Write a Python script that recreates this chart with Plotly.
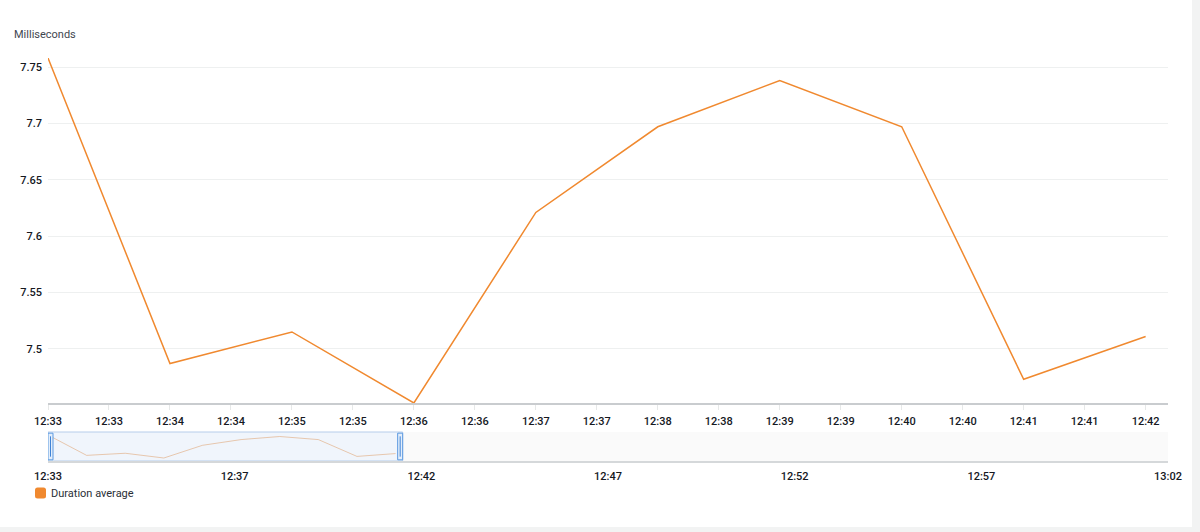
import plotly.graph_objects as go
import pandas as pd

# ---- data ----
day = "2023-06-01"
times = ["12:33", "12:34", "12:35", "12:36", "12:37", "12:38", "12:39", "12:40", "12:41", "12:42"]
values = [7.758, 7.487, 7.515, 7.452, 7.621, 7.697, 7.738, 7.697, 7.473, 7.511]
series_name = "Duration average"
y_label = "Milliseconds"
y_ticks = [7.5, 7.55, 7.6, 7.65, 7.7, 7.75]
y_ticktext = ["7.5", "7.55", "7.6", "7.65", "7.7", "7.75"]
view_start = "12:33:00"
view_end = "12:42:11"
overview_end = "13:02:00"
overview_label_count = 7

# ---- derived ----
x = pd.to_datetime([f"{day} {t}" for t in times])
t0 = pd.Timestamp(f"{day} {view_start}")
t_view_end = pd.Timestamp(f"{day} {view_end}")
t_over_end = pd.Timestamp(f"{day} {overview_end}")
over_ticks = [t0 + (t_over_end - t0) * k / (overview_label_count - 1) for k in range(overview_label_count)]

W, H = 1200, 532
def fx(p):
    return p / W
def fy(p):
    return 1 - p / H

ORANGE = "#f0892f"
TXT = "#16191f"
FONT = "Roboto"

vmin, vmax = min(values), max(values)
span = vmax - vmin
# overview band 432..461 px, line inside 435..458 px
pad = span * 3 / 23

fig = go.Figure()

fig.add_trace(go.Scatter(x=x, y=values, mode="lines", line=dict(color=ORANGE, width=1.5),
                         xaxis="x", yaxis="y", showlegend=False, name=series_name))
fig.add_trace(go.Scatter(x=x, y=values, mode="lines", line=dict(color="rgba(222,160,110,0.55)", width=1),
                         xaxis="x2", yaxis="y2", showlegend=False, name=series_name, hoverinfo="skip"))

xdom = [fx(48), fx(1168)]

fig.update_layout(
    width=W, height=H,
    margin=dict(l=0, r=0, t=0, b=0, autoexpand=False),
    paper_bgcolor="white", plot_bgcolor="rgba(0,0,0,0)",
    showlegend=False,
    font=dict(family=FONT, size=11, color=TXT),
    xaxis=dict(domain=xdom, anchor="y", type="date", range=[t0, t_view_end],
               tick0=t0, dtick=30000, tickformat="%H:%M", automargin=False,
               showgrid=False, zeroline=False,
               showline=True, linecolor="#c9cccf", linewidth=2,
               ticks="outside", ticklen=5, tickcolor="#e6e8e8", tickwidth=1,
               ticklabelstandoff=2,
               tickfont=dict(size=11, color=TXT, weight=500)),
    yaxis=dict(domain=[fy(403), fy(58)], anchor="x", range=[vmin, vmax], automargin=False,
               tickvals=y_ticks, ticktext=y_ticktext,
               showgrid=True, gridcolor="#eef0f0", gridwidth=1,
               zeroline=False, showline=False, ticks="", ticklabelstandoff=5,
               tickfont=dict(size=11, color=TXT, weight=500)),
    xaxis2=dict(domain=xdom, anchor="y2", type="date", range=[t0, t_over_end],
                tickvals=over_ticks, tickformat="%H:%M", automargin=False,
                showgrid=False, zeroline=False,
                showline=True, linecolor="#d5d8da", linewidth=2, ticks="",
                ticklabelstandoff=4,
                tickfont=dict(size=11, color=TXT, weight=500)),
    yaxis2=dict(domain=[fy(461), fy(432)], anchor="x2", range=[vmin - pad, vmax + pad],
                visible=False, automargin=False),
    annotations=[
        dict(text=y_label, xref="paper", yref="paper", x=fx(12), y=fy(34),
             xanchor="left", yanchor="middle", showarrow=False,
             font=dict(size=11, color="#3f4750")),
        dict(text=series_name, xref="paper", yref="paper", x=fx(49), y=fy(493),
             xanchor="left", yanchor="middle", showarrow=False,
             font=dict(size=11, color="#2a2f36")),
    ],
    shapes=[
        # overview background
        dict(type="rect", xref="x2", yref="y2 domain", x0=t0, x1=t_over_end, y0=0, y1=1,
             fillcolor="#fafafa", line=dict(width=0), layer="below"),
        # selected window
        dict(type="rect", xref="x2", yref="y2 domain", x0=t0, x1=t_view_end, y0=0, y1=1,
             fillcolor="#f0f5fc", line=dict(color="#b6cdea", width=1), layer="below"),
        # handles
        dict(type="rect", xref="x2", yref="y2 domain", xsizemode="pixel", xanchor=t0,
             x0=0, x1=5, y0=0.04, y1=0.96, fillcolor="#e3eefb", line=dict(color="#5c9ae0", width=1)),
        dict(type="line", xref="x2", yref="y2 domain", xsizemode="pixel", xanchor=t0,
             x0=2.5, x1=2.5, y0=0.15, y1=0.85, line=dict(color="#3f83d6", width=1)),
        dict(type="rect", xref="x2", yref="y2 domain", xsizemode="pixel", xanchor=t_view_end,
             x0=-5, x1=0, y0=0.04, y1=0.96, fillcolor="#e3eefb", line=dict(color="#5c9ae0", width=1)),
        dict(type="line", xref="x2", yref="y2 domain", xsizemode="pixel", xanchor=t_view_end,
             x0=-2.5, x1=-2.5, y0=0.15, y1=0.85, line=dict(color="#3f83d6", width=1)),
        # legend swatch (rounded square)
        dict(type="path", xref="paper", yref="paper", xsizemode="pixel", ysizemode="pixel",
             xanchor=fx(40.5), yanchor=fy(493),
             path="M -3,-5.5 L 3,-5.5 Q 5.5,-5.5 5.5,-3 L 5.5,3 Q 5.5,5.5 3,5.5 L -3,5.5 "
                  "Q -5.5,5.5 -5.5,3 L -5.5,-3 Q -5.5,-5.5 -3,-5.5 Z",
             fillcolor=ORANGE, line=dict(width=0)),
        # page frame strips
        dict(type="rect", xref="paper", yref="paper", x0=fx(1192), x1=1, y0=0, y1=1,
             fillcolor="#f2f3f3", line=dict(width=0), layer="above"),
        dict(type="rect", xref="paper", yref="paper", x0=0, x1=1, y0=0, y1=fy(527),
             fillcolor="#f2f3f3", line=dict(width=0), layer="above"),
    ],
)

fig.write_html("out.html", config={"displayModeBar": False},
               post_script="document.body.style.margin='0px';")
